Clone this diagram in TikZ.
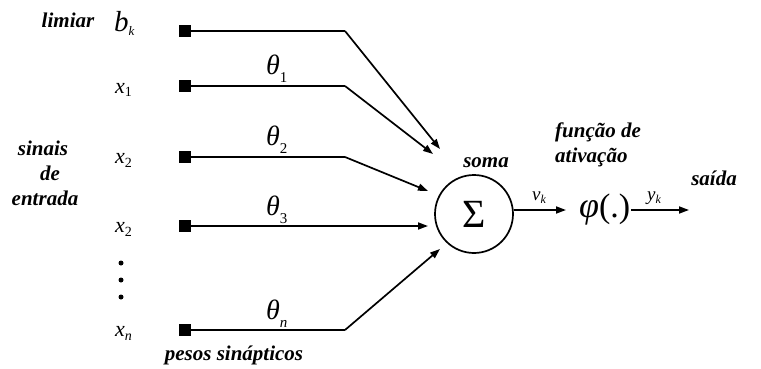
\documentclass[tikz,border=0pt]{standalone}
\usepackage{fontspec}
\setmainfont{Liberation Serif}
\usetikzlibrary{arrows.meta}
\newcommand{\sym}[5]{{\fontsize{#1}{#1}\selectfont\itshape #2}\raisebox{#5}{\fontsize{#3}{#3}\selectfont #4}}
\begin{document}
\begin{tikzpicture}[x=1pt,y=-1pt,
  lbl/.style={font=\fontsize{21}{25}\selectfont\bfseries\itshape, inner sep=0pt, align=center},
  sq/.style={fill=black, minimum size=12pt, inner sep=0pt},
  wire/.style={line width=1.7pt},
  arr/.style={line width=1.7pt, -{Triangle[length=10pt,width=7pt]}},
  sym/.style={inner sep=0pt, anchor=base west}]
\useasboundingbox (0,0) rectangle (761,369);
% squares
\node[sq] (s0) at (185,31) {};
\node[sq] (s1) at (185,86) {};
\node[sq] (s2) at (185,157) {};
\node[sq] (s3) at (185,226) {};
\node[sq] (sn) at (185,330) {};
% bends
\coordinate (b0) at (345,31);
\coordinate (b1) at (345,86);
\coordinate (b2) at (345,157);
\coordinate (b3) at (345,226);
\coordinate (bn) at (345,330);
% circle
\node[circle, draw, line width=1.7pt, minimum size=78pt, inner sep=0pt] (sum) at (474,214) {\fontsize{40}{40}\selectfont Σ};
\coordinate (t0) at (440,149);
\coordinate (t1) at (433,154);
\coordinate (t2) at (428,191);
\coordinate (t3) at (428,226);
\coordinate (tn) at (440,249);
\draw[wire] (s0.east) -- (b0);
\draw[arr] (b0) -- (t0);
\draw[wire] (s1.east) -- (b1);
\draw[arr] (b1) -- (t1);
\draw[wire] (s2.east) -- (b2);
\draw[arr] (b2) -- (t2);
\draw[arr] (s3.east) -- (t3);
\draw[wire] (sn.east) -- (bn);
\draw[arr] (bn) -- (tn);
% output
\node[sym] (phi) at (579,217) {{\fontsize{36}{36}\selectfont\itshape φ}{\fontsize{34}{34}\selectfont(.)}};
\coordinate (vend) at (566,210);
\coordinate (ystart) at (631,210);
\coordinate (yend) at (689,210);
\draw[arr] (sum.east |- vend) -- (vend);
\draw[arr] (ystart) -- (yend);
\node[sym] (vk) at (532,200) {\sym{19}{v}{12}{\itshape k}{-3pt}};
\node[sym] (yk) at (647,200) {\sym{19}{y}{12}{\itshape k}{-3pt}};
% input labels
\node[sym] (bk) at (114,32) {\sym{29}{b}{13}{\itshape k}{-4pt}};
\node[sym] (x1) at (115,93) {\sym{22}{x}{14}{1}{-4pt}};
\node[sym] (x2) at (115,163) {\sym{22}{x}{14}{2}{-4pt}};
\node[sym] (x3) at (115,232) {\sym{22}{x}{14}{2}{-4pt}};
\node[sym] (xn) at (115,336) {\sym{22}{x}{14}{\itshape n}{-4pt}};
\node[circle, fill, inner sep=0pt, minimum size=5pt] (d1) at (121,263) {};
\node[circle, fill, inner sep=0pt, minimum size=5pt] (d2) at (121,280) {};
\node[circle, fill, inner sep=0pt, minimum size=5pt] (d3) at (121,297) {};
% weights
\node[sym] (w1) at (266,75) {\sym{28}{θ}{15}{1}{-8pt}};
\node[sym] (w2) at (266,146) {\sym{28}{θ}{15}{2}{-8pt}};
\node[sym] (w3) at (266,215) {\sym{28}{θ}{15}{3}{-8pt}};
\node[sym] (wn) at (266,319) {\sym{28}{θ}{15}{\itshape n}{-8pt}};
% text labels
\node[lbl] (limiar) at (68,20) {limiar};
\node[lbl] (sinais) at (43,148) {sinais};
\node[lbl] (de) at (50,173) {de};
\node[lbl] (entrada) at (45,198) {entrada};
\node[lbl] (pesos) at (234,355) {pesos sinápticos};
\node[lbl] (soma) at (486,163) {soma};
\node[lbl, anchor=west] (fun) at (555,132) {função de};
\node[lbl, anchor=west] (ativ) at (555,157) {ativação};
\node[lbl] (saida) at (714,178) {saída};
\end{tikzpicture}
\end{document}
